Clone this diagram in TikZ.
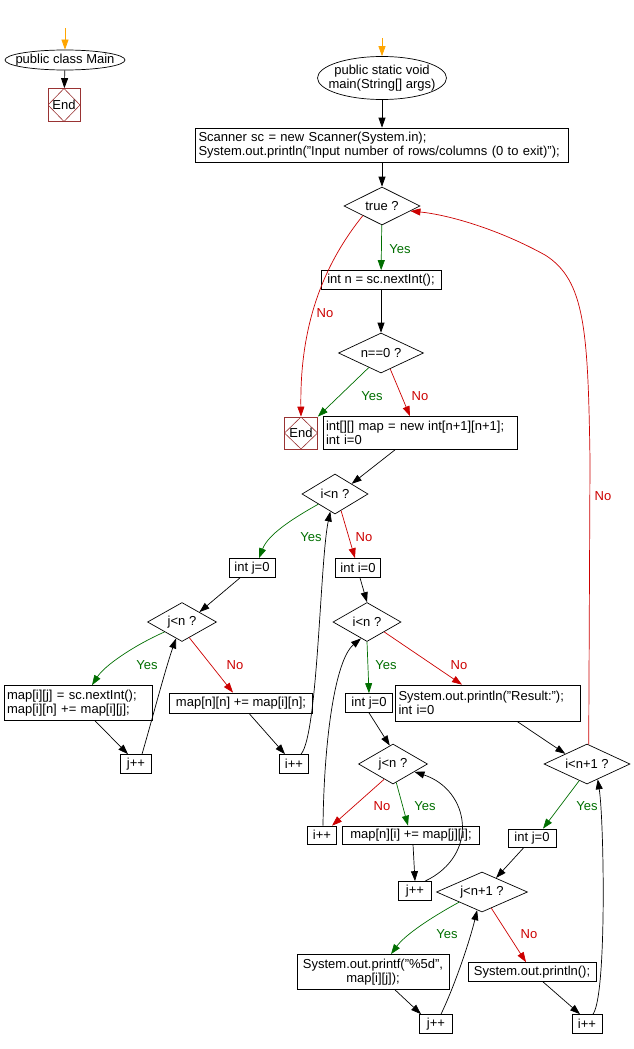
\documentclass[tikz,border=0pt]{standalone}
\usepackage{fontspec}
\setmainfont{Liberation Sans}
\usetikzlibrary{arrows.meta, shapes.geometric}
\definecolor{yescol}{RGB}{0, 110, 0}
\definecolor{nocol}{RGB}{204, 0, 0}
\definecolor{startcol}{RGB}{255, 165, 0}
\definecolor{endcol}{RGB}{153, 51, 51}

\tikzset{
  chart/.style={x=1pt, y=-1pt, font=\fontsize{13}{14.5}\selectfont, line width=0.7pt,
    >={Triangle[length=10pt, width=7pt]}},
  proc/.style={draw, rectangle, inner xsep=3pt, inner ysep=1pt},
  cond/.style={draw, diamond, aspect=2, inner sep=0pt},
  term/.style={draw, ellipse, inner xsep=-10pt, inner ysep=0pt},
  endbox/.style={draw=endcol, rectangle, inner sep=0pt, minimum width=32pt, minimum height=33pt,
    path picture={\draw[endcol, line width=0.6pt] (path picture bounding box.north)
      -- (path picture bounding box.east) -- (path picture bounding box.south)
      -- (path picture bounding box.west) -- cycle;}},
  flow/.style={->},
  yesflow/.style={->, yescol},
  noflow/.style={->, nocol},
  startflow/.style={->, startcol},
  yeslbl/.style={text=yescol},
  nolbl/.style={text=nocol}
}

\begin{document}
\begin{tikzpicture}[chart]
  \useasboundingbox (0,0) rectangle (634,1049);

  % class Main
  \coordinate (s1) at (65,28);
  \node[term, minimum width=120pt, minimum height=20pt] (mainc) at (65,60) {public class Main};
  \node[endbox] (endc1) at (64,105) {End};
  \draw[startflow] (s1) -- (mainc);
  \draw[flow] (mainc) -- (endc1);

  % main method
  \coordinate (s2) at (382,38);
  \node[term, minimum width=129pt, minimum height=43pt, align=center] (mainf) at (382,78) {public static void\\main(String[] args)};
  \node[proc, text width=367pt, align=left, minimum height=34pt] (init) at (382,145) {Scanner sc = new Scanner(System.in);\\System.out.println("Input number of rows/columns (0 to exit)");};
  \node[cond, minimum width=76pt, minimum height=38pt] (tq) at (382,206) {true ?};
  \node[proc, minimum width=120pt, minimum height=19pt] (readn) at (381,280) {int n = sc.nextInt();};
  \node[cond, minimum width=85pt, minimum height=40pt] (nz) at (381,353) {n==0 ?};
  \node[endbox, minimum width=33pt, minimum height=32pt] (endm) at (301,433) {End};
  \node[proc, text width=188pt, align=left, minimum height=33pt] (alloc) at (420,433) {int[][] map = new int[n+1][n+1];\\int i=0};

  % reading loop
  \node[cond, minimum width=66pt, minimum height=40pt] (d1) at (335,494) {i<n ?};
  \node[proc, minimum width=46pt, minimum height=19pt] (jz1) at (252,568) {int j=0};
  \node[proc, minimum width=45pt, minimum height=19pt] (iz1) at (358,568) {int i=0};
  \node[cond, minimum width=69pt, minimum height=39pt] (dj1) at (182,622) {j<n ?};
  \node[proc, text width=142pt, align=left, minimum height=35pt] (body1) at (78,703) {map[i][j] = sc.nextInt();\\map[i][n] += map[i][j];};
  \node[proc, minimum width=143pt, minimum height=20pt] (sumn) at (241,703) {map[n][n] += map[i][n];};
  \node[proc, minimum width=31pt, minimum height=19pt] (jpp1) at (136,764) {j++};
  \node[proc, minimum width=29pt, minimum height=19pt] (ipp1) at (294,764) {i++};

  % column sums
  \node[cond, minimum width=68pt, minimum height=39pt] (d2) at (367,622) {i<n ?};
  \node[proc, minimum width=47pt, minimum height=19pt] (jz2) at (369,703) {int j=0};
  \node[proc, text width=179pt, align=left, minimum height=36pt] (res) at (488,703) {System.out.println("Result:");\\int i=0};
  \node[cond, minimum width=69pt, minimum height=40pt] (dj2) at (393,764) {j<n ?};
  \node[proc, minimum width=29pt, minimum height=18pt] (ipp2) at (322,835) {i++};
  \node[proc, minimum width=137pt, minimum height=18pt] (body2) at (411,835) {map[n][i] += map[j][i];};
  \node[proc, minimum width=33pt, minimum height=19pt] (jpp2) at (415,891) {j++};

  % printing loop
  \node[cond, minimum width=86pt, minimum height=40pt] (d3) at (587,764) {i<n+1 ?};
  \node[proc, minimum width=48pt, minimum height=18pt] (jz3) at (532,838) {int j=0};
  \node[cond, minimum width=91pt, minimum height=40pt] (dj3) at (482,892) {j<n+1 ?};
  \node[proc, minimum width=152pt, minimum height=35pt, align=center] (printf) at (373,972) {System.out.printf("\%5d",\\map[i][j]);};
  \node[proc, minimum width=128pt, minimum height=19pt] (println) at (532,972) {System.out.println();};
  \node[proc, minimum width=33pt, minimum height=19pt] (jpp3) at (436,1024) {j++};
  \node[proc, minimum width=30pt, minimum height=19pt] (ipp3) at (587,1024) {i++};

  % labels
  \node[yeslbl] (l1) at (400,249) {Yes};
  \node[nolbl] (l2) at (325,313) {No};
  \node[yeslbl] (l3) at (372,396) {Yes};
  \node[nolbl] (l4) at (420,396) {No};
  \node[yeslbl] (l5) at (311,537) {Yes};
  \node[nolbl] (l6) at (364,537) {No};
  \node[yeslbl] (l7) at (147,665) {Yes};
  \node[nolbl] (l8) at (235,665) {No};
  \node[yeslbl] (l9) at (386,665) {Yes};
  \node[nolbl] (l10) at (459,665) {No};
  \node[nolbl] (l11) at (603,496) {No};
  \node[nolbl] (l12) at (382,806) {No};
  \node[yeslbl] (l13) at (425,806) {Yes};
  \node[yeslbl] (l14) at (587,806) {Yes};
  \node[yeslbl] (l15) at (447,934) {Yes};
  \node[nolbl] (l16) at (529,934) {No};

  % connectors, top part
  \draw[startflow] (s2) -- (mainf);
  \draw[flow] (mainf) -- (init);
  \draw[flow] (init) -- (tq);
  \draw[yesflow] (tq) -- (readn);
  \draw[noflow] (tq.south west) .. controls (315,275) and (300,340) .. (endm.north);
  \draw[flow] (readn) -- (nz);
  \draw[yesflow] (nz.-130) -- (endm.north east);
  \draw[noflow] (nz.-60) -- ([xshift=-10pt]alloc.north);
  \draw[flow] ([xshift=-25pt]alloc.south) -- (d1.north east);

  % connectors, reading loop
  \draw[yesflow] (d1.south west) .. controls (290,520) and (268,535) .. ([xshift=7pt]jz1.north);
  \draw[noflow] (d1.-70) -- ([xshift=-3pt]iz1.north);
  \draw[flow] ([xshift=-12pt]jz1.south) -- (dj1.north east);
  \draw[yesflow] (dj1.south west) .. controls (135,645) and (105,665) .. ([xshift=14pt]body1.north);
  \draw[noflow] (dj1.-65) -- ([xshift=-8pt]sumn.north);
  \draw[flow] ([xshift=17pt]body1.south) -- ([xshift=-8pt]jpp1.north);
  \draw[flow] ([xshift=8pt]sumn.south) -- ([xshift=-9pt]ipp1.north);
  \draw[flow] ([xshift=6pt]jpp1.north) .. controls (152,720) and (165,670) .. (dj1.-110);
  \draw[flow] ([xshift=7pt]ipp1.north) .. controls (318,735) and (320,560) .. (d1.-105);

  % connectors, column sums
  \draw[flow] ([xshift=2pt]iz1.south) -- (d2.north);
  \draw[yesflow] (d2.south) -- (jz2.north);
  \draw[noflow] (d2.south east) -- ([xshift=-26pt]res.north);
  \draw[flow] ([xshift=29pt]res.south) -- (d3.north west);
  \draw[flow] (jz2.south) -- (dj2.100);
  \draw[noflow] (dj2.-120) -- ([xshift=10pt]ipp2.north);
  \draw[yesflow] (dj2.-80) -- ([xshift=-3pt]body2.north);
  \draw[flow] ([xshift=2pt]body2.south) -- (jpp2.north);
  \draw[flow] ([xshift=10pt]jpp2.north) .. controls (480,855) and (470,790) .. (dj2.-20);
  \draw[flow] ([xshift=1pt]ipp2.north) .. controls (324,740) and (335,660) .. (d2.-110);

  % connectors, printing loop
  \draw[noflow] (d3.85) -- (590,460) .. controls (588,330) and (585,280) .. (545,255)
    .. controls (500,230) and (450,215) .. (tq.-10);
  \draw[yesflow] (d3.-115) -- ([xshift=11pt]jz3.north);
  \draw[flow] ([xshift=-8pt]jz3.south) -- (dj3.45);
  \draw[yesflow] (dj3.south west) .. controls (430,918) and (405,935) .. ([xshift=18pt]printf.north);
  \draw[noflow] (dj3.-60) -- ([xshift=-6pt]println.north);
  \draw[flow] ([xshift=22pt]printf.south) -- ([xshift=-15pt]jpp3.north);
  \draw[flow] ([xshift=11pt]println.south) -- ([xshift=-7pt]ipp3.north);
  \draw[flow] ([xshift=5pt]jpp3.north) .. controls (455,985) and (470,940) .. (dj3.-105);
  \draw[flow] ([xshift=6pt]ipp3.north) .. controls (607,995) and (604,820) .. (d3.-55);
\end{tikzpicture}
\end{document}
